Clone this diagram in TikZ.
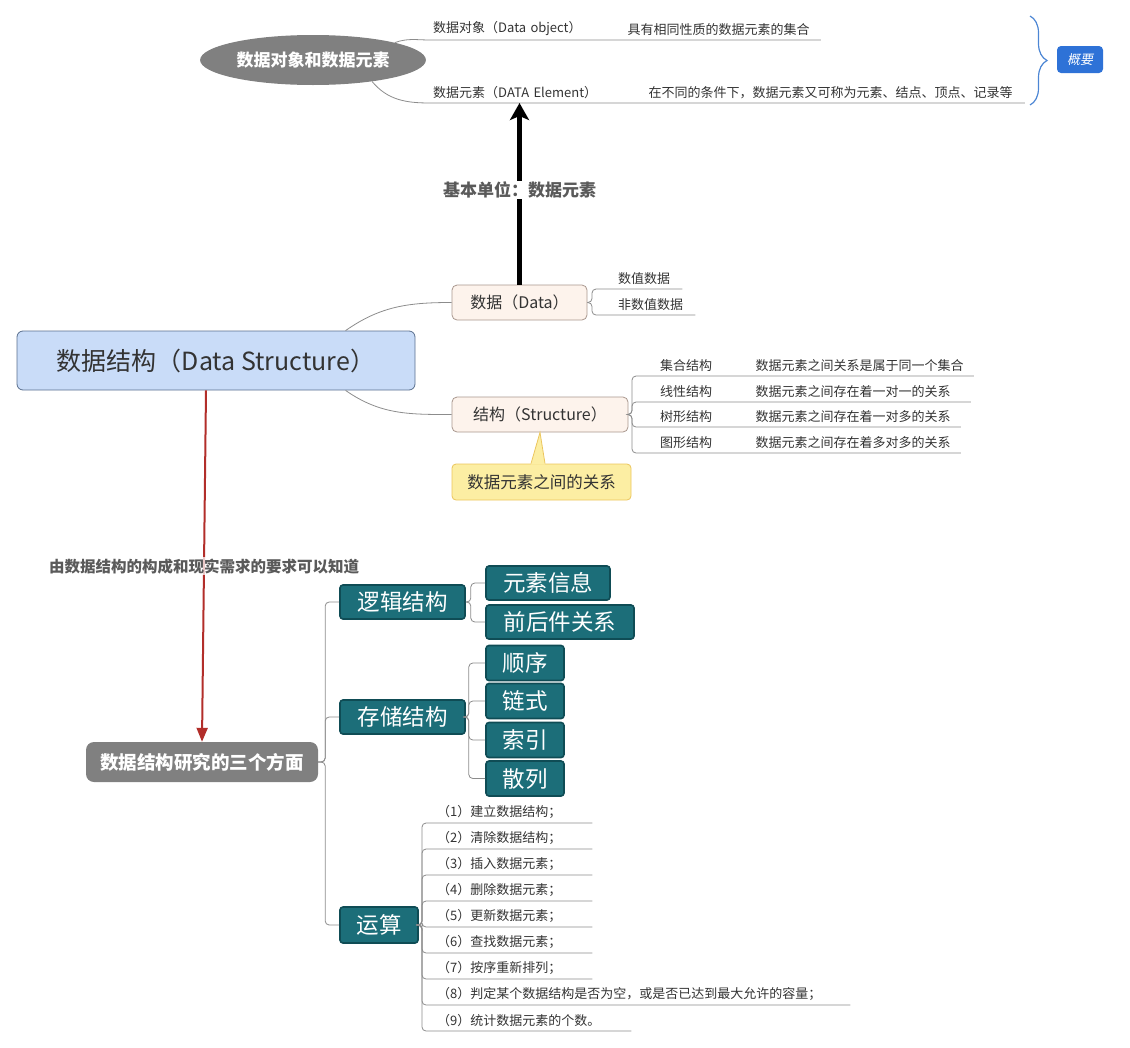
\documentclass[tikz,border=0pt]{standalone}
\usepackage{fontspec}
\setmainfont{Noto Sans CJK SC}
\newfontfamily\slantfont[FakeSlant=0.2]{Noto Sans CJK SC}
\usepackage{xcolor}
\usetikzlibrary{arrows.meta,shapes.geometric,decorations.pathreplacing,calc}

\definecolor{textdark}{HTML}{333333}
\definecolor{linegray}{HTML}{8C8C8C}
\definecolor{mainfill}{HTML}{C9DCF8}
\definecolor{mainborder}{HTML}{5A6F8E}
\definecolor{topicfill}{HTML}{FDF3EC}
\definecolor{topicborder}{HTML}{A8978E}
\definecolor{darkgray}{HTML}{808080}
\definecolor{tealfill}{HTML}{1C6E79}
\definecolor{tealborder}{HTML}{0F4C55}
\definecolor{notefill}{HTML}{FCEEA3}
\definecolor{noteborder}{HTML}{EBC55C}
\definecolor{summaryblue}{HTML}{2E72D7}
\definecolor{bracecolor}{HTML}{4C86D4}
\definecolor{arrowred}{HTML}{B22E2A}
\definecolor{labelgray}{HTML}{5A5A5A}

\tikzset{
	mainnode/.style={draw=mainborder, fill=mainfill, line width=0.8pt, rounded corners=6pt,
			minimum width=398pt, minimum height=59pt, text=textdark, font=\fontsize{25}{28}\selectfont},
	topic/.style={draw=topicborder, fill=topicfill, line width=0.8pt, rounded corners=5pt,
			minimum height=35pt, text=textdark, font=\fontsize{16}{18}\selectfont},
	graytopic/.style={fill=darkgray, text=white, rounded corners=8pt,
			minimum width=232pt, minimum height=40pt, font=\fontsize{18.5}{20}\selectfont\bfseries},
	tealbox/.style={draw=tealborder, fill=tealfill, line width=1.6pt, rounded corners=3pt,
			minimum height=34pt, text=white, font=\fontsize{22.5}{25}\selectfont},
	notebox/.style={draw=noteborder, fill=notefill, line width=0.8pt, rounded corners=4pt,
			text=textdark, font=\fontsize{16.5}{19}\selectfont},
	ulinetopic/.style 2 args={anchor=south west, inner xsep=0pt, inner ysep=4pt, text width=#1,
			align=left, text=textdark, font=\fontsize{13}{15}\selectfont,
			execute at begin node={\hspace*{#2}}},
	branch/.style={draw=linegray, line width=0.8pt},
	basearrow/.style={line width=4.5pt, -{Stealth[length=17pt,width=19pt,inset=4pt]}},
	baselabel/.style={fill=white, inner sep=1pt, text=labelgray, font=\fontsize{17}{19}\selectfont\bfseries},
	redarrow/.style={draw=arrowred, line width=2pt, -{Triangle[length=14pt,width=11pt]}},
	reqlabel/.style={fill=white, fill opacity=0.75, text opacity=1, inner sep=1pt,
			text=labelgray, font=\fontsize{15.5}{18}\selectfont\bfseries},
	summarybrace/.style={draw=bracecolor, line width=1.2pt, decorate, decoration={brace, amplitude=17pt}},
	summarynode/.style={fill=summaryblue, text=white, rounded corners=4pt,
			minimum width=46pt, minimum height=27pt, font=\slantfont\fontsize{13}{15}\selectfont}
}

\begin{document}
\begin{tikzpicture}[x=1pt, y=-1pt]

	\useasboundingbox (0,0) rectangle (1130,1047);

	% Data object and data element
	\node[ellipse, fill=darkgray, minimum width=186pt, minimum height=50pt, text=white,
		font=\fontsize{17}{19}\selectfont\bfseries] (dataobj) at (313,60) {数据对象和数据元素};
	\node[ulinetopic={190pt}{3pt}] (obj) at (430,40) {数据对象（Data object）};
	\node[ulinetopic={200pt}{7pt}] (objdesc) at (obj.south east) {具有相同性质的数据元素的集合};
	\node[ulinetopic={210pt}{3pt}] (elem) at (430,103) {数据元素（DATA Element）};
	\node[ulinetopic={384pt}{8pt}] (elemdesc) at (elem.south east) {在不同的条件下，数据元素又可称为元素、结点、顶点、记录等};
	\draw[branch] (dataobj.12) to[out=20,in=180] (obj.south west) -- (objdesc.south east);
	\draw[branch] (dataobj.-20) to[out=-50,in=180] (elem.south west) -- (elemdesc.south east);

	% Summary brace
	\coordinate (bracetop) at (1030,16);
	\coordinate (bracebot) at (1030,105);
	\draw[summarybrace] (bracetop) -- (bracebot);
	\node[summarynode] (summary) at (1080,59.5) {概要};

	% Central topic with data and structure
	\node[mainnode] (main) at (216,360.5) {数据结构（Data Structure）};
	\node[topic, minimum width=135pt] (data) at (519.5,302.5) {数据（Data）};
	\node[topic, minimum width=176pt] (struct) at (540,414.5) {结构（Structure）};
	\draw[branch] (main.13) to[out=35,in=180] (data.west);
	\draw[branch] (main.-13) to[out=-35,in=180] (struct.west);

	% Basic unit arrow
	\draw[basearrow] (data.north) -- (data.north |- elem.south)
		node[pos=0.52, baselabel] {基本单位：数据元素};

	% Kinds of data
	\node[ulinetopic={90pt}{26pt}] (num) at (592,289) {数值数据};
	\node[ulinetopic={103pt}{26pt}] (nonnum) at (592,315) {非数值数据};
	\draw[branch, rounded corners=4pt] (data.east) -| (num.south west) -- (num.south east);
	\draw[branch, rounded corners=4pt] (data.east) -| (nonnum.south west) -- (nonnum.south east);

	% Kinds of structure
	\foreach \i/\y/\name/\desc/\w in {1/376/集合结构/数据元素之间关系是属于同一个集合/233,
			2/402/线性结构/数据元素之间存在着一对一的关系/230,
			3/427/树形结构/数据元素之间存在着一对多的关系/220,
			4/453/图形结构/数据元素之间存在着多对多的关系/220} {
			\node[ulinetopic={108pt}{28pt}] (kind\i) at (632,\y) {\name};
			\node[ulinetopic={\w pt}{15pt}] (kinddesc\i) at (kind\i.south east) {\desc};
			\draw[branch, rounded corners=4pt] (struct.east) -| (kind\i.south west) -- (kinddesc\i.south east);
		}

	% Callout below structure
	\node[notebox, minimum width=179pt, minimum height=36pt] (note) at (541.5,482) {数据元素之间的关系};
	\fill[notefill] ($(note.north)+(-10.5,0.9)$) -- (struct.south) -- ($(note.north)+(3.5,0.9)$) -- cycle;
	\draw[noteborder, line width=0.8pt] ($(note.north)+(-10.5,0)$) -- (struct.south) -- ($(note.north)+(3.5,0)$);

	% Three aspects of data structure
	\node[graytopic] (research) at (202,762) {数据结构研究的三个方面};
	\draw[redarrow] ($(main.south)+(-10,0)$) -- (research.north)
		node[pos=0.5, reqlabel] {由数据结构的构成和现实需求的要求可以知道};

	\node[tealbox, minimum width=125pt] (logic) at (402.5,602) {逻辑结构};
	\node[tealbox, minimum width=125pt] (storage) at (402.5,717) {存储结构};
	\node[tealbox, minimum width=78pt, minimum height=36pt] (ops) at (379,925) {运算};
	\foreach \t in {logic,storage,ops}
	\draw[branch, rounded corners=4pt] (research.east) -- ++(7,0) |- (\t.west);

	% Logical structure
	\node[tealbox, minimum width=124pt] (info) at (548,583) {元素信息};
	\node[tealbox, minimum width=148pt] (order) at (560,622) {前后件关系};
	\foreach \t in {info,order}
	\draw[branch, rounded corners=4pt] (logic.east) -- ++(5,0) |- (\t.west);

	% Storage structure
	\foreach \t/\y/\txt in {seq/663/顺序, link/701/链式, index/740/索引, hash/778.5/散列} {
			\node[tealbox, minimum width=78pt, minimum height=35pt] (\t) at (525,\y) {\txt};
			\draw[branch, rounded corners=4pt] (storage.east) -- ++(3,0) |- (\t.west);
		}

	% Operations
	\foreach \i/\txt/\w in {1/（1）建立数据结构；/170, 2/（2）清除数据结构；/170,
			3/（3）插入数据元素；/170, 4/（4）删除数据元素；/170,
			5/（5）更新数据元素；/170, 6/（6）查找数据元素；/170,
			7/（7）按序重新排列；/170,
			8/（8）判定某个数据结构是否为空，或是否已达到最大允许的容量；/428,
			9/（9）统计数据元素的个数。/209} {
			\node[ulinetopic={\w pt}{15pt}] (op\i) at (422,{823+26*(\i-1)}) {\txt};
			\draw[branch, rounded corners=4pt] (ops.east) -| (op\i.south west) -- (op\i.south east);
		}

\end{tikzpicture}
\end{document}
